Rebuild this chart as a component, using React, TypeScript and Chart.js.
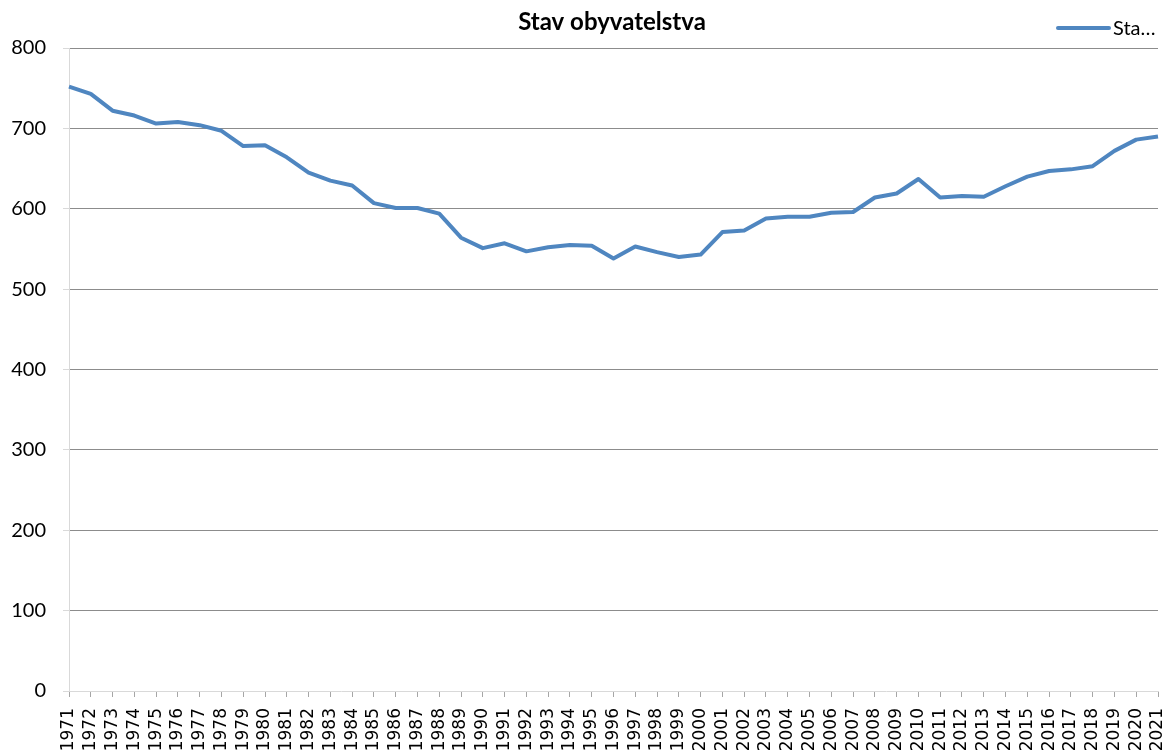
import React, { useEffect, useRef } from "react";
import { Chart, registerables } from "chart.js";

Chart.register(...registerables);

const years: string[] = [
  "1971","1972","1973","1974","1975","1976","1977","1978","1979","1980",
  "1981","1982","1983","1984","1985","1986","1987","1988","1989","1990",
  "1991","1992","1993","1994","1995","1996","1997","1998","1999","2000",
  "2001","2002","2003","2004","2005","2006","2007","2008","2009","2010",
  "2011","2012","2013","2014","2015","2016","2017","2018","2019","2020","2021",
];

const population: number[] = [
  752, 743, 722, 716, 706, 708, 704, 697, 678, 679,
  664, 645, 635, 629, 607, 601, 601, 594, 564, 551,
  557, 547, 552, 555, 554, 538, 553, 546, 540, 543,
  571, 573, 588, 590, 590, 595, 596, 614, 619, 637,
  614, 616, 615, 628, 640, 647, 649, 653, 672, 686, 690,
];

const seriesName = "Stav obyvatelstva";
const chartTitle = "Stav obyvatelstva";
const legendText = "Sta\u2026";
const lineColor = "#4f86c0";

const overlayPlugin = {
  id: "overlay",
  afterDraw(chart: any) {
    const ctx = chart.ctx;
    ctx.save();
    ctx.fillStyle = "#000";
    ctx.font = "bold 24px Lato";
    ctx.textAlign = "center";
    ctx.textBaseline = "middle";
    ctx.fillText(chartTitle, 612, 22);
    ctx.strokeStyle = lineColor;
    ctx.lineWidth = 4;
    ctx.lineCap = "round";
    ctx.beginPath();
    ctx.moveTo(1058, 28);
    ctx.lineTo(1109, 28);
    ctx.stroke();
    ctx.font = "20px Lato";
    ctx.textAlign = "left";
    ctx.fillText(legendText, 1113, 29);
    ctx.restore();
  },
};

export default function App() {
  const ref = useRef<HTMLCanvasElement | null>(null);
  useEffect(() => {
    if (!ref.current) return;
    const chart = new Chart(ref.current, {
      type: "line",
      data: {
        labels: years,
        datasets: [
          {
            label: seriesName,
            data: population,
            borderColor: lineColor,
            backgroundColor: lineColor,
            borderWidth: 4,
            pointRadius: 0,
            tension: 0,
            borderJoinStyle: "round",
          },
        ],
      },
      options: {
        animation: false,
        responsive: false,
        devicePixelRatio: 1,
        layout: { padding: { top: 48, right: 10, left: 0, bottom: 0 } },
        plugins: {
          legend: { display: false },
          title: { display: false },
          tooltip: { enabled: false },
        },
        scales: {
          x: {
            offset: false,
            grid: {
              drawOnChartArea: false,
              drawTicks: true,
              tickLength: 6,
              tickColor: "#a6a6a6",
              offset: false,
            },
            border: { color: "#d9d9d9", width: 1 },
            ticks: {
              autoSkip: false,
              minRotation: 90,
              maxRotation: 90,
              padding: 11,
              color: "#000",
              font: { family: "DejaVu Sans", size: 17 },
            },
            afterFit(scale: any) {
              scale.height = 64;
              scale.paddingLeft = 0;
              scale.paddingRight = 0;
            },
          },
          y: {
            min: 0,
            max: 800,
            ticks: {
              stepSize: 100,
              padding: 17,
              color: "#000",
              font: { family: "Lato", size: 20 },
            },
            grid: {
              color: (c: any) => (c.tick && c.tick.value === 0 ? "rgba(0,0,0,0)" : "#8c8c8c"),
              tickColor: "#d9d9d9",
              tickLength: 6,
              lineWidth: 1,
            },
            border: { color: "#d9d9d9", width: 1 },
            afterFit(scale: any) {
              scale.width = 69;
            },
          },
        },
      },
      plugins: [overlayPlugin],
    });
    return () => chart.destroy();
  }, []);
  return (
    <div style={{ position: "absolute", left: 0, top: 0, width: 1168, height: 755, background: "#fff" }}>
      <canvas ref={ref} width={1168} height={755} />
    </div>
  );
}
